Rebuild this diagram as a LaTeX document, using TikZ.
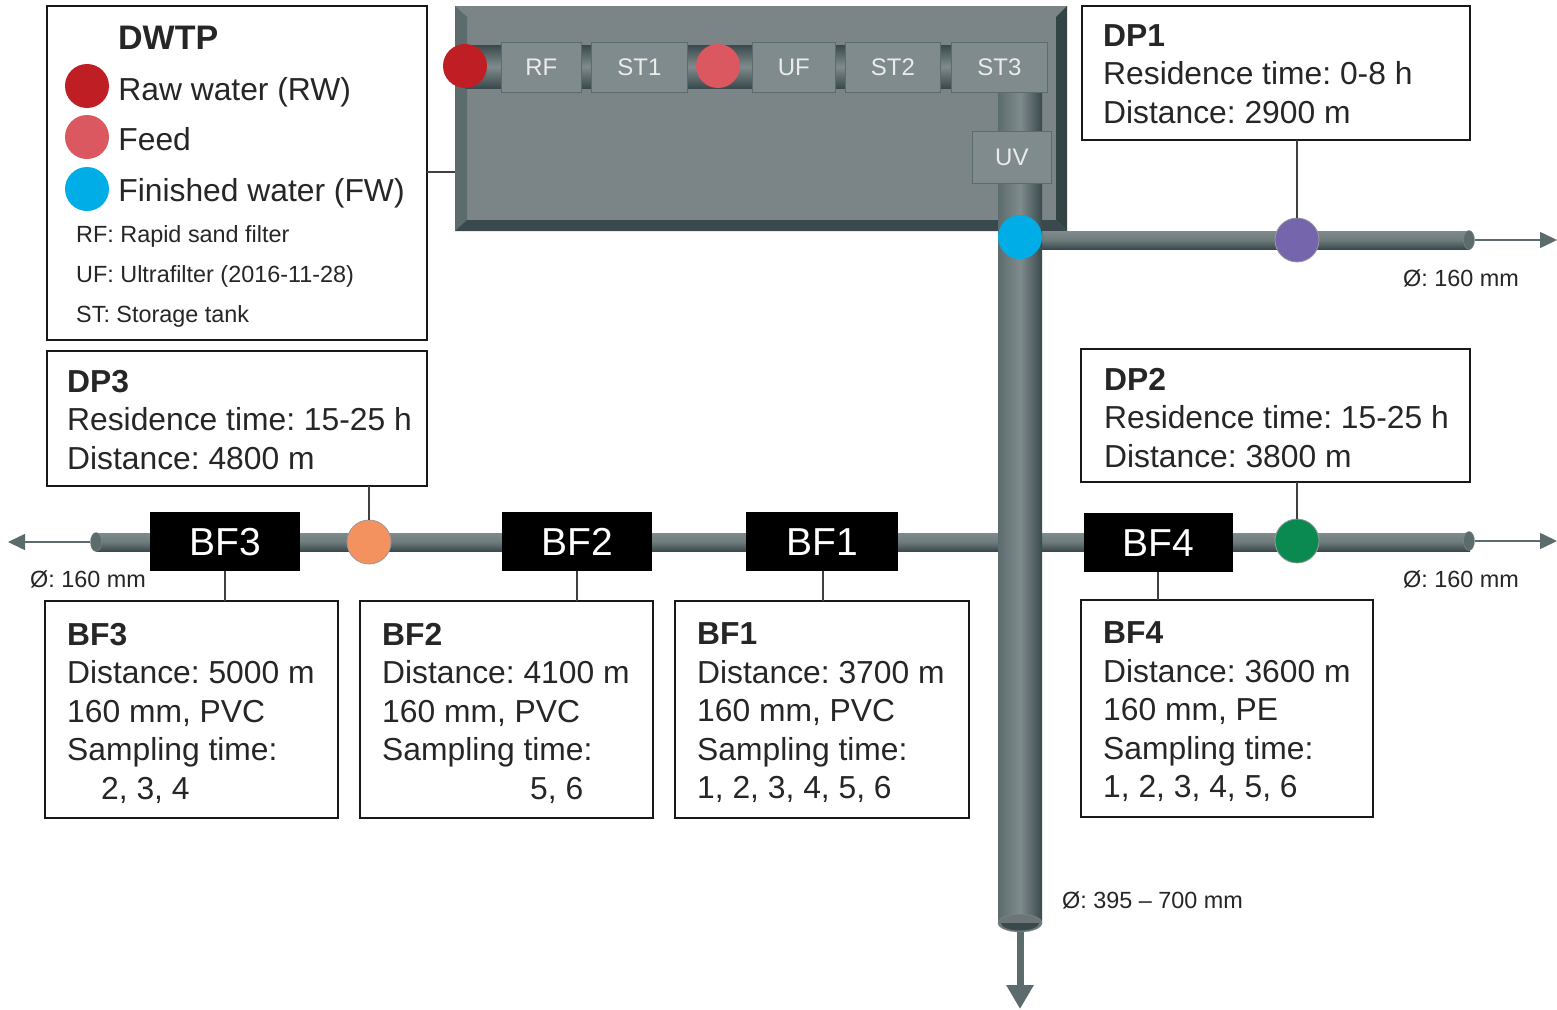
\documentclass[tikz,border=0pt]{standalone}
\usepackage{xcolor}
\usepackage{fontspec}
\setmainfont{Liberation Sans}
\usepackage{tikz}
\usetikzlibrary{positioning,arrows.meta,calc,shapes.geometric}

\definecolor{facegray}{HTML}{7B8486}
\definecolor{tankgray}{HTML}{808B8D}
\definecolor{pipedark}{HTML}{3A4A4C}
\definecolor{pipemid}{HTML}{5C6C6D}
\definecolor{pipelight}{HTML}{7F8B8D}
\definecolor{rwred}{HTML}{BF1E25}
\definecolor{feedred}{HTML}{DB5860}
\definecolor{fwblue}{HTML}{00ADE6}
\definecolor{dponeviolet}{HTML}{7565AD}
\definecolor{dptwogreen}{HTML}{0A8A50}
\definecolor{dpthreeorange}{HTML}{F4925F}
\frenchspacing

\begin{document}
\begin{tikzpicture}[x=1pt, y=-1pt, font=\fontsize{31.8}{38.5}\selectfont, text=black!85,
  infobox/.style={draw=black!90, line width=1.6pt, fill=white, anchor=north west, inner sep=0pt, outer sep=0pt},
  infotext/.style={align=left, inner sep=0pt},
  legtext/.style={inner sep=0pt, text height=24pt, text depth=7pt},
  smalltext/.style={font=\fontsize{23.4}{27}\selectfont, anchor=west, inner sep=0pt, yshift=-2.5pt},
  dia/.style={font=\fontsize{23.4}{27}\selectfont, anchor=west, inner sep=0pt},
  tank/.style={draw=pipemid, line width=0.8pt, fill=tankgray, anchor=north west, inner sep=0pt, text=black!8, font=\fontsize{24}{28}\selectfont},
  bfblock/.style={fill=black, anchor=north west, inner sep=0pt, text=white, minimum height=59pt, font=\fontsize{39}{44}\selectfont},
  dot/.style={circle, minimum size=44pt, inner sep=0pt},
  sampledot/.style={dot, draw=black!40, line width=0.8pt},
  hpipe/.style={top color=pipelight, bottom color=pipedark, middle color=pipelight!75!pipedark},
  vpipe/.style={left color=pipemid, right color=pipedark, middle color=pipelight},
  procpipe/.style={top color=pipedark, bottom color=pipedark, middle color=pipelight},
  pipeend/.style={ellipse, inner sep=0pt, minimum width=11pt, minimum height=19pt, draw=pipelight, fill=pipemid},
  link/.style={draw=black!75, line width=1.5pt},
  thinarr/.style={draw=pipemid, line width=1.5pt, -{Triangle[length=17pt, width=16pt]}},
  fatarr/.style={draw=pipemid, line width=7pt, -{Triangle[length=24pt, width=26pt]}}]
\useasboundingbox (0,0) rectangle (1557,1009);
\fill[white] (0,0) rectangle (1557,1009);

% treatment plant
\fill[facegray] (455,6) rectangle (1067,231);
\fill[pipemid] (455,6) -- (467,17) -- (467,220) -- (455,231) -- cycle;
\fill[pipedark!90!black] (1067,6) -- (1056,17) -- (1056,220) -- (1067,231) -- cycle;
\fill[pipedark] (455,231) -- (467,220) -- (1056,220) -- (1067,231) -- cycle;
\shade[procpipe] (465,45) rectangle (1040,88);

% pipes
\shade[hpipe] (1030,231) rectangle (1470,249);
\shade[hpipe] (96,533) rectangle (1470,551);
\shade[vpipe] (998,88) rectangle (1042,922);

% pipe ends
\node[pipeend] (endn) at (1469,240) {};
\node[pipeend] (endw) at (96,542) {};
\node[pipeend] (ende) at (1469,541) {};
\node[ellipse, inner sep=0pt, minimum width=44pt, minimum height=18pt, fill=pipelight!85!black, draw=pipelight] (ends) at (1020,923) {};
\fill[pipedark] (1001,923) arc[start angle=180, end angle=360, x radius=19pt, y radius=7.5pt] -- cycle;
\coordinate (outn) at (1557,240);
\coordinate (outw) at (8,542);
\coordinate (oute) at (1557,541);
\coordinate (outs) at (1020,1009);
\draw[thinarr] (endn) -- (outn);
\draw[thinarr] (endw) -- (outw);
\draw[thinarr] (ende) -- (oute);
\draw[fatarr] (ends) -- (outs);

% tanks
\node[tank, minimum width=80pt, minimum height=50pt] (rf) at (501,42) {RF};
\node[tank, minimum width=96pt, minimum height=50pt] (st1) at (591,42) {ST1};
\node[tank, minimum width=83pt, minimum height=50pt] (uf) at (752,42) {UF};
\node[tank, minimum width=95pt, minimum height=50pt] (st2) at (845,42) {ST2};
\node[tank, minimum width=96pt, minimum height=50pt] (st3) at (951,42) {ST3};
\node[tank, minimum width=79pt, minimum height=52pt] (uv) at (972,131) {UV};

% sampling points
\node[dot, fill=rwred] (rw) at (465,66) {};
\node[dot, fill=feedred] (feed) at (718,66) {};
\node[dot, fill=fwblue] (fw) at (1020,237) {};
\node[sampledot, fill=dponeviolet] (dp1pt) at (1297,240) {};
\node[sampledot, fill=dpthreeorange] (dp3pt) at (369,542) {};
\node[sampledot, fill=dptwogreen] (dp2pt) at (1297,541) {};

% legend
\node[infobox, minimum width=380pt, minimum height=334pt] (dwtp) at (47,6) {};
\node[inner sep=0pt, font=\fontsize{34}{38}\selectfont\bfseries, anchor=west] (dwtptitle) at (118,37.5) {DWTP};
\node[dot, fill=rwred] (lgrw) at (87,86) {};
\node[dot, fill=feedred] (lgfeed) at (87,137) {};
\node[dot, fill=fwblue] (lgfw) at (87,189) {};
\node[legtext, yshift=-6pt, right=9pt of lgrw] (lgrwtext) {Raw water (RW)};
\node[legtext, yshift=-5pt, right=9pt of lgfeed] (lgfeedtext) {Feed};
\node[legtext, yshift=-4pt, right=9pt of lgfw] (lgfwtext) {Finished water (FW)};
\node[smalltext] (lgrf) at (76,234) {RF: Rapid sand filter};
\node[smalltext] (lguf) at (76,274) {UF: Ultrafilter (2016-11-28)};
\node[smalltext] (lgst) at (76,314) {ST: Storage tank};

% distribution points
\node[infobox, minimum width=388pt, minimum height=134pt] (dp1) at (1082,6) {};
\node[infotext, yshift=-1pt, right=21pt of dp1.west] (dp1text) {\textbf{DP1}\\Residence time: 0-8 h\\Distance: 2900 m};
\node[infobox, minimum width=380pt, minimum height=135pt] (dp3) at (47,351) {};
\node[infotext, yshift=-1.5pt, right=20pt of dp3.west] (dp3text) {\textbf{DP3}\\Residence time: 15-25 h\\Distance: 4800 m};
\node[infobox, minimum width=389pt, minimum height=133pt] (dp2) at (1081,349) {};
\node[infotext, yshift=-2.5pt, right=23pt of dp2.west] (dp2text) {\textbf{DP2}\\Residence time: 15-25 h\\Distance: 3800 m};

% biofilm blocks
\node[bfblock, minimum width=150pt] (bf3) at (150,512) {BF3};
\node[bfblock, minimum width=150pt] (bf2) at (502,512) {BF2};
\node[bfblock, minimum width=152pt] (bf1) at (746,512) {BF1};
\node[bfblock, minimum width=149pt] (bf4) at (1084,513) {BF4};

% biofilm details
\node[infobox, minimum width=293pt, minimum height=217pt] (bf3box) at (45,601) {};
\node[infotext, yshift=-3.5pt, right=22pt of bf3box.west] (bf3text) {\textbf{BF3}\\Distance: 5000 m\\160 mm, PVC\\Sampling time:\\\hspace*{34pt}2, 3, 4};
\node[infobox, minimum width=293pt, minimum height=217pt] (bf2box) at (360,601) {};
\node[infotext, yshift=-3.5pt, right=22pt of bf2box.west] (bf2text) {\textbf{BF2}\\Distance: 4100 m\\160 mm, PVC\\Sampling time:\\\hspace*{148pt}5, 6};
\node[infobox, minimum width=294pt, minimum height=217pt] (bf1box) at (675,601) {};
\node[infotext, yshift=-3.5pt, right=22pt of bf1box.west] (bf1text) {\textbf{BF1}\\Distance: 3700 m\\160 mm, PVC\\Sampling time:\\1, 2, 3, 4, 5, 6};
\node[infobox, minimum width=292pt, minimum height=217pt] (bf4box) at (1081,600) {};
\node[infotext, yshift=-3.5pt, right=22pt of bf4box.west] (bf4text) {\textbf{BF4}\\Distance: 3600 m\\160 mm, PE\\Sampling time:\\1, 2, 3, 4, 5, 6};

% leader lines
\draw[link] (dwtp.east |- 0,172) -- (455,172);
\draw[link] (dp1.south -| dp1pt) -- (dp1pt.north);
\draw[link] (dp3.south -| dp3pt) -- (dp3pt.north);
\draw[link] (dp2.south -| dp2pt) -- (dp2pt.north);
\draw[link] (bf3box.north -| 225,0) -- (bf3.south -| 225,0);
\draw[link] (bf2box.north -| 577,0) -- (bf2.south -| 577,0);
\draw[link] (bf1box.north -| 823,0) -- (bf1.south -| 823,0);
\draw[link] (bf4box.north -| 1158,0) -- (bf4.south -| 1158,0);

% diameters
\node[dia] (dian) at (1403,278.5) {Ø: 160 mm};
\node[dia] (diaw) at (30,579.5) {Ø: 160 mm};
\node[dia] (diae) at (1403,579.5) {Ø: 160 mm};
\node[dia] (dias) at (1062,900.5) {Ø: 395 – 700 mm};
\end{tikzpicture}
\end{document}
